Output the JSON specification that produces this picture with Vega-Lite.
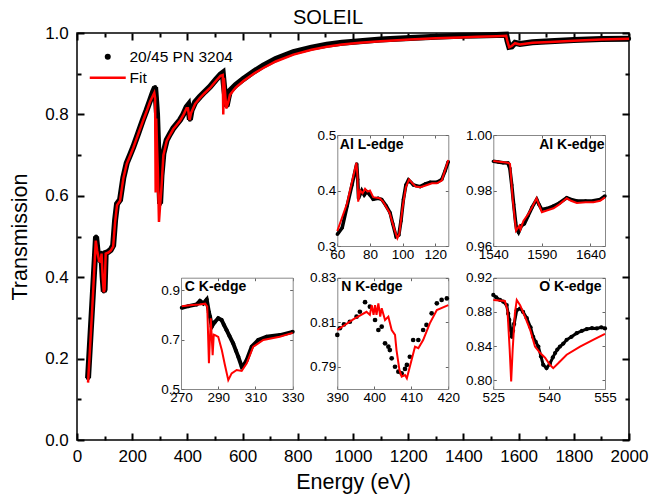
{
  "$schema": "https://vega.github.io/schema/vega-lite/v6.json",
  "width": 552,
  "height": 407,
  "autosize": {"type": "none"},
  "padding": {"left": 77, "top": 33, "right": 22, "bottom": 61},
  "title": {"text": "SOLEIL", "fontSize": 20, "fontWeight": "normal", "font": "Liberation Sans", "color": "black", "anchor": "middle", "dx": -25, "dy": 15, "offset": 10},
  "config": {
    "view": {"stroke": "black", "strokeWidth": 1.5},
    "font": "Liberation Sans",
    "axis": {"labelFont": "Liberation Sans", "titleFont": "Liberation Sans", "labelColor": "black", "titleColor": "black", "grid": false}
  },
  "resolve": {"scale": {"x": "independent", "y": "independent"}, "axis": {"x": "independent", "y": "independent"}},
  "datasets": {
    "main_d": [
      {"E": 40, "T": 0.152, "s": "20/45 PN 3204"}, {"E": 55, "T": 0.33, "s": "20/45 PN 3204"}, {"E": 69, "T": 0.5, "s": "20/45 PN 3204"},
      {"E": 75, "T": 0.46, "s": "20/45 PN 3204"}, {"E": 82, "T": 0.44, "s": "20/45 PN 3204"}, {"E": 88, "T": 0.46, "s": "20/45 PN 3204"},
      {"E": 93, "T": 0.4, "s": "20/45 PN 3204"}, {"E": 97, "T": 0.365, "s": "20/45 PN 3204"}, {"E": 100, "T": 0.37, "s": "20/45 PN 3204"},
      {"E": 104, "T": 0.46, "s": "20/45 PN 3204"}, {"E": 112, "T": 0.462, "s": "20/45 PN 3204"}, {"E": 122, "T": 0.467, "s": "20/45 PN 3204"},
      {"E": 131, "T": 0.478, "s": "20/45 PN 3204"}, {"E": 138, "T": 0.54, "s": "20/45 PN 3204"}, {"E": 145, "T": 0.58, "s": "20/45 PN 3204"},
      {"E": 156, "T": 0.59, "s": "20/45 PN 3204"}, {"E": 168, "T": 0.645, "s": "20/45 PN 3204"}, {"E": 180, "T": 0.68, "s": "20/45 PN 3204"},
      {"E": 192, "T": 0.7, "s": "20/45 PN 3204"}, {"E": 204, "T": 0.72, "s": "20/45 PN 3204"}, {"E": 222, "T": 0.754, "s": "20/45 PN 3204"},
      {"E": 238, "T": 0.785, "s": "20/45 PN 3204"}, {"E": 252, "T": 0.81, "s": "20/45 PN 3204"}, {"E": 265, "T": 0.835, "s": "20/45 PN 3204"},
      {"E": 276, "T": 0.856, "s": "20/45 PN 3204"}, {"E": 283, "T": 0.867, "s": "20/45 PN 3204"}, {"E": 286, "T": 0.84, "s": "20/45 PN 3204"},
      {"E": 290, "T": 0.8, "s": "20/45 PN 3204"}, {"E": 295, "T": 0.7, "s": "20/45 PN 3204"}, {"E": 301, "T": 0.58, "s": "20/45 PN 3204"},
      {"E": 306, "T": 0.65, "s": "20/45 PN 3204"}, {"E": 313, "T": 0.704, "s": "20/45 PN 3204"}, {"E": 325, "T": 0.737, "s": "20/45 PN 3204"},
      {"E": 337, "T": 0.752, "s": "20/45 PN 3204"}, {"E": 349, "T": 0.766, "s": "20/45 PN 3204"}, {"E": 361, "T": 0.776, "s": "20/45 PN 3204"},
      {"E": 373, "T": 0.786, "s": "20/45 PN 3204"}, {"E": 385, "T": 0.8, "s": "20/45 PN 3204"}, {"E": 397, "T": 0.818, "s": "20/45 PN 3204"},
      {"E": 403, "T": 0.823, "s": "20/45 PN 3204"}, {"E": 409, "T": 0.787, "s": "20/45 PN 3204"}, {"E": 415, "T": 0.81, "s": "20/45 PN 3204"},
      {"E": 428, "T": 0.83, "s": "20/45 PN 3204"}, {"E": 445, "T": 0.843, "s": "20/45 PN 3204"}, {"E": 462, "T": 0.855, "s": "20/45 PN 3204"},
      {"E": 482, "T": 0.868, "s": "20/45 PN 3204"}, {"E": 503, "T": 0.885, "s": "20/45 PN 3204"}, {"E": 520, "T": 0.898, "s": "20/45 PN 3204"},
      {"E": 528, "T": 0.902, "s": "20/45 PN 3204"}, {"E": 534, "T": 0.86, "s": "20/45 PN 3204"}, {"E": 542, "T": 0.82, "s": "20/45 PN 3204"},
      {"E": 548, "T": 0.84, "s": "20/45 PN 3204"}, {"E": 554, "T": 0.858, "s": "20/45 PN 3204"}, {"E": 575, "T": 0.872, "s": "20/45 PN 3204"},
      {"E": 603, "T": 0.887, "s": "20/45 PN 3204"}, {"E": 640, "T": 0.905, "s": "20/45 PN 3204"}, {"E": 675, "T": 0.92, "s": "20/45 PN 3204"},
      {"E": 720, "T": 0.936, "s": "20/45 PN 3204"}, {"E": 784, "T": 0.953, "s": "20/45 PN 3204"}, {"E": 850, "T": 0.964, "s": "20/45 PN 3204"},
      {"E": 905, "T": 0.971, "s": "20/45 PN 3204"}, {"E": 960, "T": 0.976, "s": "20/45 PN 3204"}, {"E": 1025, "T": 0.98, "s": "20/45 PN 3204"},
      {"E": 1100, "T": 0.984, "s": "20/45 PN 3204"}, {"E": 1207, "T": 0.988, "s": "20/45 PN 3204"}, {"E": 1300, "T": 0.991, "s": "20/45 PN 3204"},
      {"E": 1388, "T": 0.993, "s": "20/45 PN 3204"}, {"E": 1450, "T": 0.994, "s": "20/45 PN 3204"}, {"E": 1520, "T": 0.995, "s": "20/45 PN 3204"},
      {"E": 1555, "T": 0.996, "s": "20/45 PN 3204"}, {"E": 1560, "T": 0.98, "s": "20/45 PN 3204"}, {"E": 1566, "T": 0.966, "s": "20/45 PN 3204"},
      {"E": 1575, "T": 0.967, "s": "20/45 PN 3204"}, {"E": 1587, "T": 0.976, "s": "20/45 PN 3204"}, {"E": 1605, "T": 0.973, "s": "20/45 PN 3204"},
      {"E": 1650, "T": 0.977, "s": "20/45 PN 3204"}, {"E": 1714, "T": 0.98, "s": "20/45 PN 3204"}, {"E": 1800, "T": 0.983, "s": "20/45 PN 3204"},
      {"E": 1900, "T": 0.985, "s": "20/45 PN 3204"}, {"E": 2000, "T": 0.986, "s": "20/45 PN 3204"}
    ],
    "main_f": [
      {"E": 40, "T": 0.141, "s": "Fit"}, {"E": 55, "T": 0.32, "s": "Fit"}, {"E": 68, "T": 0.49, "s": "Fit"}, {"E": 73, "T": 0.465, "s": "Fit"},
      {"E": 80, "T": 0.44, "s": "Fit"}, {"E": 86, "T": 0.438, "s": "Fit"}, {"E": 89, "T": 0.458, "s": "Fit"}, {"E": 93, "T": 0.4, "s": "Fit"},
      {"E": 97, "T": 0.363, "s": "Fit"}, {"E": 100, "T": 0.37, "s": "Fit"}, {"E": 104, "T": 0.458, "s": "Fit"}, {"E": 112, "T": 0.46, "s": "Fit"},
      {"E": 122, "T": 0.465, "s": "Fit"}, {"E": 131, "T": 0.475, "s": "Fit"}, {"E": 138, "T": 0.535, "s": "Fit"}, {"E": 145, "T": 0.577, "s": "Fit"},
      {"E": 156, "T": 0.588, "s": "Fit"}, {"E": 168, "T": 0.643, "s": "Fit"}, {"E": 180, "T": 0.678, "s": "Fit"}, {"E": 192, "T": 0.698, "s": "Fit"},
      {"E": 204, "T": 0.718, "s": "Fit"}, {"E": 222, "T": 0.752, "s": "Fit"}, {"E": 238, "T": 0.782, "s": "Fit"}, {"E": 252, "T": 0.807, "s": "Fit"},
      {"E": 265, "T": 0.832, "s": "Fit"}, {"E": 280, "T": 0.853, "s": "Fit"}, {"E": 283, "T": 0.84, "s": "Fit"}, {"E": 285, "T": 0.608, "s": "Fit"},
      {"E": 287, "T": 0.79, "s": "Fit"}, {"E": 290, "T": 0.72, "s": "Fit"}, {"E": 293, "T": 0.66, "s": "Fit"}, {"E": 297, "T": 0.536, "s": "Fit"},
      {"E": 301, "T": 0.575, "s": "Fit"}, {"E": 306, "T": 0.62, "s": "Fit"}, {"E": 313, "T": 0.7, "s": "Fit"}, {"E": 325, "T": 0.735, "s": "Fit"},
      {"E": 337, "T": 0.75, "s": "Fit"}, {"E": 349, "T": 0.764, "s": "Fit"}, {"E": 361, "T": 0.774, "s": "Fit"}, {"E": 373, "T": 0.784, "s": "Fit"},
      {"E": 385, "T": 0.798, "s": "Fit"}, {"E": 397, "T": 0.815, "s": "Fit"}, {"E": 402, "T": 0.815, "s": "Fit"}, {"E": 408, "T": 0.786, "s": "Fit"},
      {"E": 413, "T": 0.803, "s": "Fit"}, {"E": 428, "T": 0.826, "s": "Fit"}, {"E": 445, "T": 0.84, "s": "Fit"}, {"E": 462, "T": 0.852, "s": "Fit"},
      {"E": 482, "T": 0.865, "s": "Fit"}, {"E": 503, "T": 0.882, "s": "Fit"}, {"E": 520, "T": 0.895, "s": "Fit"}, {"E": 528, "T": 0.897, "s": "Fit"},
      {"E": 530, "T": 0.8, "s": "Fit"}, {"E": 532, "T": 0.89, "s": "Fit"}, {"E": 541, "T": 0.815, "s": "Fit"}, {"E": 548, "T": 0.83, "s": "Fit"},
      {"E": 554, "T": 0.848, "s": "Fit"}, {"E": 575, "T": 0.866, "s": "Fit"}, {"E": 603, "T": 0.882, "s": "Fit"}, {"E": 640, "T": 0.9, "s": "Fit"},
      {"E": 675, "T": 0.914, "s": "Fit"}, {"E": 720, "T": 0.93, "s": "Fit"}, {"E": 784, "T": 0.947, "s": "Fit"}, {"E": 850, "T": 0.959, "s": "Fit"},
      {"E": 905, "T": 0.966, "s": "Fit"}, {"E": 960, "T": 0.972, "s": "Fit"}, {"E": 1025, "T": 0.976, "s": "Fit"}, {"E": 1100, "T": 0.98, "s": "Fit"},
      {"E": 1207, "T": 0.984, "s": "Fit"}, {"E": 1300, "T": 0.987, "s": "Fit"}, {"E": 1388, "T": 0.989, "s": "Fit"}, {"E": 1450, "T": 0.991, "s": "Fit"},
      {"E": 1520, "T": 0.992, "s": "Fit"}, {"E": 1555, "T": 0.993, "s": "Fit"}, {"E": 1560, "T": 0.978, "s": "Fit"}, {"E": 1566, "T": 0.965, "s": "Fit"},
      {"E": 1575, "T": 0.968, "s": "Fit"}, {"E": 1587, "T": 0.975, "s": "Fit"}, {"E": 1605, "T": 0.972, "s": "Fit"}, {"E": 1650, "T": 0.976, "s": "Fit"},
      {"E": 1714, "T": 0.978, "s": "Fit"}, {"E": 1800, "T": 0.981, "s": "Fit"}, {"E": 1900, "T": 0.984, "s": "Fit"}, {"E": 2000, "T": 0.986, "s": "Fit"}
    ],
    "al_d": [
      {"E": 60, "T": 0.321}, {"E": 63, "T": 0.333}, {"E": 66, "T": 0.372}, {"E": 69, "T": 0.41}, {"E": 71.9, "T": 0.448}, {"E": 72.5, "T": 0.42},
      {"E": 73, "T": 0.386}, {"E": 75, "T": 0.4}, {"E": 76.5, "T": 0.392}, {"E": 78, "T": 0.398}, {"E": 80, "T": 0.392}, {"E": 82, "T": 0.384},
      {"E": 85, "T": 0.386}, {"E": 87.2, "T": 0.384}, {"E": 90, "T": 0.372}, {"E": 92.3, "T": 0.36}, {"E": 94, "T": 0.34}, {"E": 96, "T": 0.317},
      {"E": 97.7, "T": 0.32}, {"E": 99, "T": 0.345}, {"E": 100.5, "T": 0.384}, {"E": 102, "T": 0.41}, {"E": 103.6, "T": 0.419}, {"E": 105, "T": 0.415},
      {"E": 106.6, "T": 0.41}, {"E": 110.7, "T": 0.407}, {"E": 114, "T": 0.412}, {"E": 116.9, "T": 0.415}, {"E": 121, "T": 0.415}, {"E": 124, "T": 0.42},
      {"E": 126, "T": 0.435}, {"E": 128, "T": 0.452}
    ],
    "al_f": [
      {"E": 60, "T": 0.327}, {"E": 66, "T": 0.377}, {"E": 71.7, "T": 0.45}, {"E": 72.3, "T": 0.43}, {"E": 72.8, "T": 0.38}, {"E": 74, "T": 0.4},
      {"E": 75.5, "T": 0.395}, {"E": 77, "T": 0.403}, {"E": 78.5, "T": 0.398}, {"E": 80, "T": 0.4}, {"E": 82, "T": 0.388}, {"E": 86, "T": 0.386},
      {"E": 88, "T": 0.38}, {"E": 92, "T": 0.36}, {"E": 95, "T": 0.33}, {"E": 96.8, "T": 0.314}, {"E": 98, "T": 0.322}, {"E": 100, "T": 0.37},
      {"E": 102, "T": 0.406}, {"E": 104, "T": 0.42}, {"E": 106, "T": 0.413}, {"E": 108, "T": 0.407}, {"E": 111, "T": 0.406}, {"E": 115, "T": 0.41},
      {"E": 118, "T": 0.413}, {"E": 121, "T": 0.413}, {"E": 124, "T": 0.418}, {"E": 128, "T": 0.455}
    ],
    "alk_d": [
      {"E": 1540, "T": 0.9905}, {"E": 1545, "T": 0.9903}, {"E": 1550, "T": 0.99}, {"E": 1555, "T": 0.9899}, {"E": 1557, "T": 0.988}, {"E": 1559, "T": 0.982},
      {"E": 1561, "T": 0.975}, {"E": 1563, "T": 0.9685}, {"E": 1564, "T": 0.9661}, {"E": 1566, "T": 0.9649}, {"E": 1569, "T": 0.9673}, {"E": 1572, "T": 0.968},
      {"E": 1576, "T": 0.971}, {"E": 1580, "T": 0.974}, {"E": 1584.7, "T": 0.9768}, {"E": 1587, "T": 0.975}, {"E": 1589.8, "T": 0.9732}, {"E": 1595, "T": 0.9735},
      {"E": 1601.8, "T": 0.9744}, {"E": 1608, "T": 0.9755}, {"E": 1615.6, "T": 0.9774}, {"E": 1620, "T": 0.9768}, {"E": 1625.9, "T": 0.9762}, {"E": 1635, "T": 0.9762},
      {"E": 1643, "T": 0.9763}, {"E": 1650, "T": 0.9768}, {"E": 1655, "T": 0.978}
    ],
    "alk_f": [
      {"E": 1540, "T": 0.9906}, {"E": 1555, "T": 0.99}, {"E": 1557.2, "T": 0.9896}, {"E": 1560, "T": 0.9768}, {"E": 1563.4, "T": 0.9655}, {"E": 1566.8, "T": 0.9673},
      {"E": 1568, "T": 0.966}, {"E": 1571, "T": 0.969}, {"E": 1576, "T": 0.9715}, {"E": 1580, "T": 0.974}, {"E": 1584.5, "T": 0.9772}, {"E": 1590, "T": 0.9722},
      {"E": 1595, "T": 0.9728}, {"E": 1602, "T": 0.9736}, {"E": 1608, "T": 0.975}, {"E": 1615.6, "T": 0.9772}, {"E": 1620, "T": 0.9763}, {"E": 1626, "T": 0.9755},
      {"E": 1635, "T": 0.9758}, {"E": 1643, "T": 0.9758}, {"E": 1650, "T": 0.9763}, {"E": 1655, "T": 0.9775}
    ],
    "c_d": [
      {"E": 270.4, "T": 0.828}, {"E": 274, "T": 0.835}, {"E": 278.4, "T": 0.842}, {"E": 280.2, "T": 0.856}, {"E": 282, "T": 0.846}, {"E": 283.8, "T": 0.862},
      {"E": 285, "T": 0.81}, {"E": 285.6, "T": 0.792}, {"E": 286.5, "T": 0.752}, {"E": 287.5, "T": 0.765}, {"E": 288.3, "T": 0.772}, {"E": 290, "T": 0.786},
      {"E": 291.8, "T": 0.779}, {"E": 293, "T": 0.76}, {"E": 294.5, "T": 0.738}, {"E": 296, "T": 0.715}, {"E": 298, "T": 0.685}, {"E": 299.5, "T": 0.655},
      {"E": 300.8, "T": 0.63}, {"E": 302.6, "T": 0.59}, {"E": 304, "T": 0.6}, {"E": 305.3, "T": 0.617}, {"E": 308, "T": 0.671}, {"E": 311.5, "T": 0.698},
      {"E": 316, "T": 0.711}, {"E": 323.2, "T": 0.718}, {"E": 330, "T": 0.731}
    ],
    "c_f": [
      {"E": 270.4, "T": 0.835}, {"E": 276, "T": 0.84}, {"E": 280, "T": 0.842}, {"E": 283, "T": 0.845}, {"E": 284.1, "T": 0.833}, {"E": 285, "T": 0.604},
      {"E": 286, "T": 0.786}, {"E": 287, "T": 0.637}, {"E": 287.6, "T": 0.72}, {"E": 288.3, "T": 0.718}, {"E": 290, "T": 0.711}, {"E": 291.9, "T": 0.658},
      {"E": 293.5, "T": 0.6}, {"E": 295.4, "T": 0.536}, {"E": 297.2, "T": 0.563}, {"E": 299.9, "T": 0.577}, {"E": 302.6, "T": 0.573}, {"E": 305.3, "T": 0.604},
      {"E": 308.8, "T": 0.671}, {"E": 314.2, "T": 0.698}, {"E": 323, "T": 0.711}, {"E": 330, "T": 0.727}
    ],
    "n_d": [
      {"E": 390, "T": 0.8043}, {"E": 390.7, "T": 0.8073}, {"E": 391.8, "T": 0.809}, {"E": 393.4, "T": 0.8102}, {"E": 395.2, "T": 0.8125}, {"E": 396.1, "T": 0.8147},
      {"E": 397.5, "T": 0.819}, {"E": 398.8, "T": 0.817}, {"E": 400.2, "T": 0.811}, {"E": 401.1, "T": 0.8065}, {"E": 402, "T": 0.808}, {"E": 402.9, "T": 0.8005},
      {"E": 403.8, "T": 0.799}, {"E": 404.2, "T": 0.7975}, {"E": 404.7, "T": 0.7938}, {"E": 405.6, "T": 0.79}, {"E": 406.5, "T": 0.7878}, {"E": 407.4, "T": 0.787},
      {"E": 408.3, "T": 0.789}, {"E": 408.8, "T": 0.7908}, {"E": 409.6, "T": 0.7945}, {"E": 410.5, "T": 0.802}, {"E": 411.9, "T": 0.802}, {"E": 413.2, "T": 0.8065},
      {"E": 414.1, "T": 0.8088}, {"E": 415.5, "T": 0.814}, {"E": 416.9, "T": 0.8185}, {"E": 418.2, "T": 0.82}, {"E": 419.6, "T": 0.8207}
    ],
    "n_f": [
      {"E": 390, "T": 0.8065}, {"E": 394.3, "T": 0.8113}, {"E": 397.9, "T": 0.8147}, {"E": 398.8, "T": 0.8133}, {"E": 399.3, "T": 0.8177}, {"E": 399.8, "T": 0.8133},
      {"E": 400.2, "T": 0.8177}, {"E": 400.6, "T": 0.8133}, {"E": 401.1, "T": 0.8185}, {"E": 401.6, "T": 0.8125}, {"E": 402, "T": 0.8163}, {"E": 402.9, "T": 0.811},
      {"E": 403.8, "T": 0.8125}, {"E": 404.7, "T": 0.8065}, {"E": 405.6, "T": 0.8043}, {"E": 406, "T": 0.7975}, {"E": 406.8, "T": 0.7885}, {"E": 407.4, "T": 0.7856},
      {"E": 408.3, "T": 0.7863}, {"E": 408.8, "T": 0.7848}, {"E": 409.6, "T": 0.79}, {"E": 411, "T": 0.799}, {"E": 411.9, "T": 0.7983}, {"E": 413.2, "T": 0.802},
      {"E": 415, "T": 0.8095}, {"E": 416.9, "T": 0.8155}, {"E": 420, "T": 0.8177}
    ],
    "o_d": [
      {"E": 525, "T": 0.8998}, {"E": 525.8, "T": 0.897}, {"E": 526.8, "T": 0.894}, {"E": 527.7, "T": 0.892}, {"E": 528.6, "T": 0.888}, {"E": 529, "T": 0.878},
      {"E": 529.3, "T": 0.8707}, {"E": 529.7, "T": 0.859}, {"E": 530, "T": 0.851}, {"E": 530.3, "T": 0.858}, {"E": 530.6, "T": 0.866}, {"E": 531.3, "T": 0.882},
      {"E": 532.2, "T": 0.884}, {"E": 533, "T": 0.88}, {"E": 534, "T": 0.8727}, {"E": 535, "T": 0.862}, {"E": 535.7, "T": 0.851}, {"E": 536.4, "T": 0.845},
      {"E": 537.1, "T": 0.8396}, {"E": 537.8, "T": 0.828}, {"E": 538.4, "T": 0.8183}, {"E": 539.3, "T": 0.8144}, {"E": 540.2, "T": 0.8196}, {"E": 541, "T": 0.827},
      {"E": 541.6, "T": 0.832}, {"E": 542.2, "T": 0.836}, {"E": 542.9, "T": 0.8396}, {"E": 543.8, "T": 0.843}, {"E": 544.7, "T": 0.8474}, {"E": 546, "T": 0.851},
      {"E": 547.4, "T": 0.8552}, {"E": 548.8, "T": 0.858}, {"E": 550.1, "T": 0.86}, {"E": 551.5, "T": 0.861}, {"E": 552.8, "T": 0.8607}, {"E": 554, "T": 0.862},
      {"E": 555, "T": 0.8607}
    ],
    "o_f": [
      {"E": 525, "T": 0.894}, {"E": 528.1, "T": 0.8929}, {"E": 528.8, "T": 0.8824}, {"E": 529.4, "T": 0.8358}, {"E": 529.8, "T": 0.7988}, {"E": 530.2, "T": 0.8358},
      {"E": 530.8, "T": 0.8785}, {"E": 531.3, "T": 0.894}, {"E": 532.2, "T": 0.888}, {"E": 533.5, "T": 0.8746}, {"E": 534.9, "T": 0.8591}, {"E": 536.2, "T": 0.8396},
      {"E": 537.6, "T": 0.832}, {"E": 538.9, "T": 0.8266}, {"E": 540.2, "T": 0.8183}, {"E": 541.1, "T": 0.8144}, {"E": 542.5, "T": 0.8203}, {"E": 544.7, "T": 0.83},
      {"E": 548.3, "T": 0.8396}, {"E": 551.8, "T": 0.8474}, {"E": 555, "T": 0.8544}
    ]
  },
  "layer": [
    {
      "encoding": {
        "x": {"field": "E", "type": "quantitative", "scale": {"domain": [0, 2000], "nice": false, "zero": false},
          "axis": {"orient": "bottom", "offset": -7, "title": "Energy (eV)", "titleFontSize": 21.5, "titleFontWeight": "normal", "titlePadding": 7,
            "values": [0,200,400,600,800,1000,1200,1400,1600,1800,2000],
            "format": "d", "labelFontSize": 17, "labelPadding": 8.5, "tickSize": 7,
            "tickWidth": 2, "tickColor": "black", "domain": false, "labelOverlap": false, "labelFlush": false}},
        "y": {"field": "T", "type": "quantitative", "scale": {"domain": [0, 1], "nice": false, "zero": false},
          "axis": {"orient": "left", "offset": -7, "title": "Transmission", "titleFontSize": 21.5, "titleFontWeight": "normal", "titlePadding": 13,
            "values": [0,0.2,0.4,0.6,0.8,1.0], "format": ".1f", "labelFontSize": 17, "labelPadding": 8.7, "tickSize": 7,
            "tickWidth": 2, "tickColor": "black", "domain": false, "labelOverlap": false, "labelFlush": false}}
      },
      "layer": [
        {"data": {"name": "main_d"}, "mark": {"type": "line", "color": "black", "strokeWidth": 6}},
        {"data": {"name": "main_d"}, "mark": {"type": "point", "filled": true, "size": 18, "opacity": 1},
          "encoding": {"color": {"field": "s", "type": "nominal", "scale": {"domain": ["20/45 PN 3204", "Fit"], "range": ["black", "#ff0000"]},
            "legend": {"title": null, "orient": "none", "legendX": 23, "legendY": 16, "padding": 0, "labelFont": "Liberation Sans", "labelFontSize": 15.5, "labelColor": "black",
              "symbolSize": 36, "labelOffset": 14, "rowPadding": 4,
              "encode": {"symbols": {"update": {
                "shape": {"signal": "datum.value === 'Fit' ? 'M-6,0H6' : 'circle'"},
                "fill": {"signal": "datum.value === 'Fit' ? 'transparent' : 'black'"},
                "stroke": {"signal": "datum.value === 'Fit' ? '#ff0000' : 'black'"},
                "strokeWidth": {"signal": "datum.value === 'Fit' ? 2.5 : 0"},
                "size": {"value": 36}, "opacity": {"value": 1}}}}}}}},
        {"data": {"name": "main_f"}, "mark": {"type": "line", "strokeWidth": 2.5},
          "encoding": {"color": {"field": "s", "type": "nominal", "scale": {"domain": ["20/45 PN 3204", "Fit"], "range": ["black", "#ff0000"]},
            "legend": {"title": null, "orient": "none", "legendX": 23, "legendY": 16, "padding": 0, "labelFont": "Liberation Sans", "labelFontSize": 15.5, "labelColor": "black",
              "symbolSize": 36, "labelOffset": 14, "rowPadding": 4,
              "encode": {"symbols": {"update": {
                "shape": {"signal": "datum.value === 'Fit' ? 'M-6,0H6' : 'circle'"},
                "fill": {"signal": "datum.value === 'Fit' ? 'transparent' : 'black'"},
                "stroke": {"signal": "datum.value === 'Fit' ? '#ff0000' : 'black'"},
                "strokeWidth": {"signal": "datum.value === 'Fit' ? 2.5 : 0"},
                "size": {"value": 36}, "opacity": {"value": 1}}}}}}}}
      ]
    },
    {
      "data": {"name": "main_d"},
      "mark": {"type": "point", "opacity": 0},
      "encoding": {
        "x": {"field": "E", "type": "quantitative", "scale": {"domain": [0, 2000], "nice": false, "zero": false},
          "axis": {"orient": "top", "offset": -7, "title": null, "labels": false, "domain": false, "values": [0,200,400,600,800,1000,1200,1400,1600,1800,2000],
            "tickSize": 7, "tickWidth": 2, "tickColor": "black"}},
        "y": {"field": "T", "type": "quantitative", "scale": {"domain": [0, 1], "nice": false, "zero": false},
          "axis": {"orient": "right", "offset": -7, "title": null, "labels": false, "domain": false, "values": [0,0.2,0.4,0.6,0.8,1.0],
            "tickSize": 7, "tickWidth": 2, "tickColor": "black"}}
      }
    },
    {
      "data": {"name": "main_d"},
      "mark": {"type": "point", "opacity": 0},
      "encoding": {
        "x": {"field": "E", "type": "quantitative", "scale": {"domain": [0, 2000], "nice": false, "zero": false},
          "axis": {"orient": "bottom", "offset": -4, "title": null, "labels": false, "domain": false, "values": [100,300,500,700,900,1100,1300,1500,1700,1900],
            "tickSize": 4, "tickWidth": 2, "tickColor": "black"}},
        "y": {"field": "T", "type": "quantitative", "scale": {"domain": [0, 1], "nice": false, "zero": false},
          "axis": {"orient": "left", "offset": -4, "title": null, "labels": false, "domain": false, "values": [0.1,0.3,0.5,0.7,0.9],
            "tickSize": 4, "tickWidth": 2, "tickColor": "black"}}
      }
    },
    {
      "data": {"name": "main_d"},
      "mark": {"type": "point", "opacity": 0},
      "encoding": {
        "x": {"field": "E", "type": "quantitative", "scale": {"domain": [0, 2000], "nice": false, "zero": false},
          "axis": {"orient": "top", "offset": -4, "title": null, "labels": false, "domain": false, "values": [100,300,500,700,900,1100,1300,1500,1700,1900],
            "tickSize": 4, "tickWidth": 2, "tickColor": "black"}},
        "y": {"field": "T", "type": "quantitative", "scale": {"domain": [0, 1], "nice": false, "zero": false},
          "axis": {"orient": "right", "offset": -4, "title": null, "labels": false, "domain": false, "values": [0.1,0.3,0.5,0.7,0.9],
            "tickSize": 4, "tickWidth": 2, "tickColor": "black"}}
      }
    },
    {
      "encoding": {
        "x": {"field": "E", "type": "quantitative", "scale": {"domain": [60, 128], "range": [260.3, 371.3], "nice": false, "zero": false},
          "axis": {"orient": "bottom", "offset": -194, "title": null, "values": [60, 80, 100, 120], "format": "d", "labelFontSize": 13.5, "labelPadding": 4,
            "tickSize": -3, "tickColor": "#666", "domain": true, "domainColor": "#888", "domainWidth": 1, "labelOverlap": false, "labelFlush": false}},
        "y": {"field": "T", "type": "quantitative", "scale": {"domain": [0.3, 0.5], "range": [213, 102], "nice": false, "zero": false},
          "axis": {"orient": "left", "offset": -260.3, "title": null, "values": [0.3, 0.4, 0.5], "format": ".1f", "labelFontSize": 13.5, "labelPadding": 4.5,
            "tickSize": -3, "tickColor": "#666", "domain": true, "domainColor": "#888", "domainWidth": 1, "labelOverlap": false, "labelFlush": false}}
      },
      "layer": [
        {"data": {"name": "al_d"}, "mark": {"type": "line", "color": "black", "strokeWidth": 3.5}},
        {"data": {"name": "al_d"}, "mark": {"type": "point", "filled": true, "color": "black", "size": 12, "opacity": 1}},
        {"data": {"name": "al_f"}, "mark": {"type": "line", "color": "#ff0000", "strokeWidth": 2}}
      ]
    },
    {
      "data": {"name": "al_d"},
      "mark": {"type": "point", "opacity": 0},
      "encoding": {
        "x": {"field": "E", "type": "quantitative", "scale": {"domain": [60, 128], "range": [260.3, 371.3], "nice": false, "zero": false},
          "axis": {"orient": "top", "offset": -102, "labels": false, "values": [60, 80, 100, 120], "tickSize": -3, "tickColor": "#666",
            "domain": true, "domainColor": "#888", "domainWidth": 1,
            "title": "Al L-edge", "titleFontSize": 14, "titleFontWeight": "bold", "titleAlign": "left", "titleBaseline": "alphabetic", "titleAngle": 0, "titleX": 262.3, "titleY": 13.3}},
        "y": {"field": "T", "type": "quantitative", "scale": {"domain": [0.3, 0.5], "range": [213, 102], "nice": false, "zero": false},
          "axis": {"orient": "right", "offset": -180.7, "labels": false, "title": null, "values": [0.3, 0.4, 0.5], "tickSize": -3, "tickColor": "#666",
            "domain": true, "domainColor": "#888", "domainWidth": 1}}
      }
    },
    {
      "encoding": {
        "x": {"field": "E", "type": "quantitative", "scale": {"domain": [1540, 1655], "range": [416.3, 528], "nice": false, "zero": false},
          "axis": {"orient": "bottom", "offset": -194, "title": null, "values": [1540, 1590, 1640], "format": "d", "labelFontSize": 13.5, "labelPadding": 4,
            "tickSize": -3, "tickColor": "#666", "domain": true, "domainColor": "#888", "domainWidth": 1, "labelOverlap": false, "labelFlush": false}},
        "y": {"field": "T", "type": "quantitative", "scale": {"domain": [0.96, 1.0], "range": [213, 102], "nice": false, "zero": false},
          "axis": {"orient": "left", "offset": -416.3, "title": null, "values": [0.96, 0.98, 1.0], "format": ".2f", "labelFontSize": 13.5, "labelPadding": 4.5,
            "tickSize": -3, "tickColor": "#666", "domain": true, "domainColor": "#888", "domainWidth": 1, "labelOverlap": false, "labelFlush": false}}
      },
      "layer": [
        {"data": {"name": "alk_d"}, "mark": {"type": "line", "color": "black", "strokeWidth": 3.5}},
        {"data": {"name": "alk_d"}, "mark": {"type": "point", "filled": true, "color": "black", "size": 12, "opacity": 1}},
        {"data": {"name": "alk_f"}, "mark": {"type": "line", "color": "#ff0000", "strokeWidth": 2}}
      ]
    },
    {
      "data": {"name": "alk_d"},
      "mark": {"type": "point", "opacity": 0},
      "encoding": {
        "x": {"field": "E", "type": "quantitative", "scale": {"domain": [1540, 1655], "range": [416.3, 528], "nice": false, "zero": false},
          "axis": {"orient": "top", "offset": -102, "labels": false, "values": [1540, 1590, 1640], "tickSize": -3, "tickColor": "#666",
            "domain": true, "domainColor": "#888", "domainWidth": 1,
            "title": "Al K-edge", "titleFontSize": 14, "titleFontWeight": "bold", "titleAlign": "right", "titleBaseline": "alphabetic", "titleAngle": 0, "titleX": 527, "titleY": 13.3}},
        "y": {"field": "T", "type": "quantitative", "scale": {"domain": [0.96, 1.0], "range": [213, 102], "nice": false, "zero": false},
          "axis": {"orient": "right", "offset": -24, "labels": false, "title": null, "values": [0.96, 0.98, 1.0], "tickSize": -3, "tickColor": "#666",
            "domain": true, "domainColor": "#888", "domainWidth": 1}}
      }
    },
    {
      "encoding": {
        "x": {"field": "E", "type": "quantitative", "scale": {"domain": [270, 330], "range": [104, 215.7], "nice": false, "zero": false},
          "axis": {"orient": "bottom", "offset": -51, "title": null, "values": [270, 290, 310, 330], "format": "d", "labelFontSize": 13.5, "labelPadding": 4,
            "tickSize": -3, "tickColor": "#666", "domain": true, "domainColor": "#888", "domainWidth": 1, "labelOverlap": false, "labelFlush": false}},
        "y": {"field": "T", "type": "quantitative", "scale": {"domain": [0.5, 0.95], "range": [356, 244.7], "nice": false, "zero": false},
          "axis": {"orient": "left", "offset": -104, "title": null, "values": [0.5, 0.7, 0.9], "format": ".1f", "labelFontSize": 13.5, "labelPadding": 4.5,
            "tickSize": -3, "tickColor": "#666", "domain": true, "domainColor": "#888", "domainWidth": 1, "labelOverlap": false, "labelFlush": false}}
      },
      "layer": [
        {"data": {"name": "c_d"}, "mark": {"type": "line", "color": "black", "strokeWidth": 4}},
        {"data": {"name": "c_d"}, "mark": {"type": "point", "filled": true, "color": "black", "size": 16, "opacity": 1}},
        {"data": {"name": "c_f"}, "mark": {"type": "line", "color": "#ff0000", "strokeWidth": 2}}
      ]
    },
    {
      "data": {"name": "c_d"},
      "mark": {"type": "point", "opacity": 0},
      "encoding": {
        "x": {"field": "E", "type": "quantitative", "scale": {"domain": [270, 330], "range": [104, 215.7], "nice": false, "zero": false},
          "axis": {"orient": "top", "offset": -244.7, "labels": false, "values": [270, 290, 310, 330], "tickSize": -3, "tickColor": "#666",
            "domain": true, "domainColor": "#888", "domainWidth": 1,
            "title": "C K-edge", "titleFontSize": 14, "titleFontWeight": "bold", "titleAlign": "left", "titleBaseline": "alphabetic", "titleAngle": 0, "titleX": 107.3, "titleY": 13}},
        "y": {"field": "T", "type": "quantitative", "scale": {"domain": [0.5, 0.95], "range": [356, 244.7], "nice": false, "zero": false},
          "axis": {"orient": "right", "offset": -336.3, "labels": false, "title": null, "values": [0.5, 0.7, 0.9], "tickSize": -3, "tickColor": "#666",
            "domain": true, "domainColor": "#888", "domainWidth": 1}}
      }
    },
    {
      "encoding": {
        "x": {"field": "E", "type": "quantitative", "scale": {"domain": [390, 420], "range": [260.3, 371.3], "nice": false, "zero": false},
          "axis": {"orient": "bottom", "offset": -51, "title": null, "values": [390, 400, 410, 420], "format": "d", "labelFontSize": 13.5, "labelPadding": 4,
            "tickSize": -3, "tickColor": "#666", "domain": true, "domainColor": "#888", "domainWidth": 1, "labelOverlap": false, "labelFlush": false}},
        "y": {"field": "T", "type": "quantitative", "scale": {"domain": [0.78, 0.83], "range": [356, 244.7], "nice": false, "zero": false},
          "axis": {"orient": "left", "offset": -260.3, "title": null, "values": [0.79, 0.81, 0.83], "format": ".2f", "labelFontSize": 13.5, "labelPadding": 4.5,
            "tickSize": -3, "tickColor": "#666", "domain": true, "domainColor": "#888", "domainWidth": 1, "labelOverlap": false, "labelFlush": false}}
      },
      "layer": [
        {"data": {"name": "n_d"}, "mark": {"type": "point", "filled": true, "color": "black", "size": 22, "opacity": 1}},
        {"data": {"name": "n_f"}, "mark": {"type": "line", "color": "#ff0000", "strokeWidth": 2}}
      ]
    },
    {
      "data": {"name": "n_d"},
      "mark": {"type": "point", "opacity": 0},
      "encoding": {
        "x": {"field": "E", "type": "quantitative", "scale": {"domain": [390, 420], "range": [260.3, 371.3], "nice": false, "zero": false},
          "axis": {"orient": "top", "offset": -244.7, "labels": false, "values": [390, 400, 410, 420], "tickSize": -3, "tickColor": "#666",
            "domain": true, "domainColor": "#888", "domainWidth": 1,
            "title": "N K-edge", "titleFontSize": 14, "titleFontWeight": "bold", "titleAlign": "left", "titleBaseline": "alphabetic", "titleAngle": 0, "titleX": 263.7, "titleY": 12.5}},
        "y": {"field": "T", "type": "quantitative", "scale": {"domain": [0.78, 0.83], "range": [356, 244.7], "nice": false, "zero": false},
          "axis": {"orient": "right", "offset": -180.7, "labels": false, "title": null, "values": [0.79, 0.81, 0.83], "tickSize": -3, "tickColor": "#666",
            "domain": true, "domainColor": "#888", "domainWidth": 1}}
      }
    },
    {
      "encoding": {
        "x": {"field": "E", "type": "quantitative", "scale": {"domain": [525, 555], "range": [416.3, 528], "nice": false, "zero": false},
          "axis": {"orient": "bottom", "offset": -51, "title": null, "values": [525, 540, 555], "format": "d", "labelFontSize": 13.5, "labelPadding": 4,
            "tickSize": -3, "tickColor": "#666", "domain": true, "domainColor": "#888", "domainWidth": 1, "labelOverlap": false, "labelFlush": false}},
        "y": {"field": "T", "type": "quantitative", "scale": {"domain": [0.79, 0.92], "range": [356, 244.7], "nice": false, "zero": false},
          "axis": {"orient": "left", "offset": -416.3, "title": null, "values": [0.8, 0.84, 0.88, 0.92], "format": ".2f", "labelFontSize": 13.5, "labelPadding": 4.5,
            "tickSize": -3, "tickColor": "#666", "domain": true, "domainColor": "#888", "domainWidth": 1, "labelOverlap": false, "labelFlush": false}}
      },
      "layer": [
        {"data": {"name": "o_d"}, "mark": {"type": "line", "color": "black", "strokeWidth": 3}},
        {"data": {"name": "o_d"}, "mark": {"type": "point", "filled": true, "color": "black", "size": 18, "opacity": 1}},
        {"data": {"name": "o_f"}, "mark": {"type": "line", "color": "#ff0000", "strokeWidth": 2}}
      ]
    },
    {
      "data": {"name": "o_d"},
      "mark": {"type": "point", "opacity": 0},
      "encoding": {
        "x": {"field": "E", "type": "quantitative", "scale": {"domain": [525, 555], "range": [416.3, 528], "nice": false, "zero": false},
          "axis": {"orient": "top", "offset": -244.7, "labels": false, "values": [525, 540, 555], "tickSize": -3, "tickColor": "#666",
            "domain": true, "domainColor": "#888", "domainWidth": 1,
            "title": "O K-edge", "titleFontSize": 14, "titleFontWeight": "bold", "titleAlign": "right", "titleBaseline": "alphabetic", "titleAngle": 0, "titleX": 524, "titleY": 12.5}},
        "y": {"field": "T", "type": "quantitative", "scale": {"domain": [0.79, 0.92], "range": [356, 244.7], "nice": false, "zero": false},
          "axis": {"orient": "right", "offset": -24, "labels": false, "title": null, "values": [0.8, 0.84, 0.88, 0.92], "tickSize": -3, "tickColor": "#666",
            "domain": true, "domainColor": "#888", "domainWidth": 1}}
      }
    }
  ]
}
